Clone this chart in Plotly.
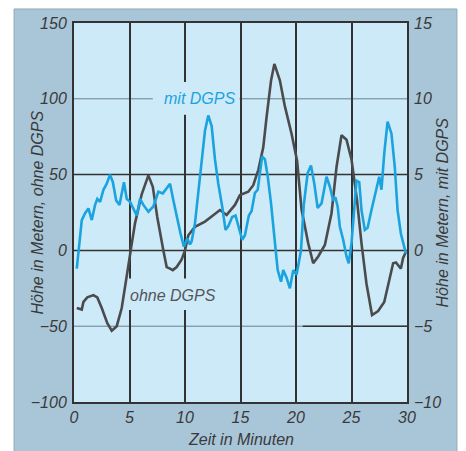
import plotly.graph_objects as go

# ---- data ----
zeit_ohne = [0.25, 0.7, 0.85, 1.2, 1.75, 2.1, 2.5, 3.0, 3.4, 3.85, 4.3, 4.6, 4.9, 5.15, 5.5,
             6.1, 6.7, 7.1, 7.5, 8.05, 8.35, 8.65, 8.9, 9.25, 9.7, 10.0, 10.3, 10.9, 11.8,
             13.15, 13.75, 14.5, 14.95, 15.7, 16.15, 16.6, 17.05, 17.35, 17.75, 18.05, 18.55,
             19.0, 19.6, 20.1, 20.5, 21.1, 21.55, 22.0, 22.6, 23.2, 23.65, 24.1, 24.55, 25.0,
             25.5, 25.9, 26.35, 26.85, 27.4, 27.95, 28.5, 28.75, 29.0, 29.45, 29.65, 29.9]
hoehe_ohne = [-38, -39, -34, -31, -29.5, -31, -38, -48, -53, -50, -38, -25, -10, 2, 18,
              37, 49.5, 42, 22, 0, -11, -12, -13, -11, -6, 0, 10, 15.6, 19,
              26.6, 23.4, 30, 36.5, 38.7, 43, 53, 68, 88, 112, 123, 112,
              95, 77, 59, 27, 4.7, -8.5, -4, 3.6, 24.5, 55, 76, 73, 60,
              33, 4.7, -22, -42.6, -40, -34, -15, -8.5, -8, -12, -5, -1]

zeit_mit = [0.25, 0.4, 0.7, 1.0, 1.3, 1.6, 1.9, 2.1, 2.35, 2.65, 2.95, 3.25, 3.5, 3.8, 4.1,
            4.5, 4.75, 5.05, 5.35, 5.65, 5.95, 6.25, 6.7, 7.15, 7.6, 8.0, 8.35, 8.65, 8.95,
            9.25, 9.6, 9.9, 10.2, 10.45, 10.6, 10.9, 11.35, 11.8, 12.1, 12.4, 12.7, 13.0,
            13.35, 13.65, 13.9, 14.25, 14.55, 14.8, 15.15, 15.4, 15.75, 16.0, 16.3, 16.55,
            16.75, 16.95, 17.2, 17.45, 17.75, 18.05, 18.35, 18.65, 18.85, 19.15, 19.45,
            19.75, 20.05, 20.45, 20.7, 21.05, 21.35, 21.65, 21.95, 22.3, 22.75, 23.05,
            23.35, 23.55, 23.75, 23.95, 24.25, 24.55, 24.75, 25.0, 25.25, 25.45, 25.7,
            25.9, 26.2, 26.45, 26.8, 27.25, 27.5, 27.7, 27.95, 28.25, 28.6, 28.9, 29.15,
            29.45, 29.75, 29.9]
hoehe_mit = [-1.2, -0.2, 2.0, 2.45, 2.77, 2.0, 3.0, 3.4, 3.2, 4.0, 4.4, 5.0, 4.5, 3.3, 3.0,
             4.5, 3.4, 3.2, 2.8, 2.3, 3.4, 3.0, 2.55, 2.9, 3.87, 3.76, 4.1, 4.4, 3.3,
             2.2, 1.1, 0.24, 0.8, 0.4, 0.6, 1.8, 4.9, 7.9, 8.9, 8.2, 6.0, 4.4,
             2.9, 1.35, 1.6, 2.2, 2.3, 1.7, 0.7, 1.0, 2.3, 2.6, 3.8, 4.0,
             5.1, 6.2, 6.0, 4.9, 3.1, 0.9, -1.3, -2.06, -1.3, -1.8, -2.5,
             -1.3, -1.6, 0.0, 3.0, 5.1, 5.6, 4.4, 2.8, 3.1, 4.86, 4.2,
             3.3, 3.5, 2.9, 1.56, 0.7, -0.4, -0.85, 0.47, 2.9, 4.6, 4.5,
             2.66, 1.35, 1.5, 2.66, 4.2, 4.86, 4.0, 6.4, 8.5, 7.7, 5.5, 2.66,
             1.1, 0.24, -0.2]

x_ticks = [0, 5, 10, 15, 20, 25, 30]
y_left_ticks = [-100, -50, 0, 50, 100, 150]
y_right_ticks = [-10, -5, 0, 5, 10, 15]

# ---- styling ----
PLOT_BG = "#cdeaf8"
FRAME = "#a9c6d8"
DARK = "#333333"
BLUE = "#1aa3df"
GRAY = "#4b4b4d"
TXT = "#3a3a3a"
FONT = "Liberation Sans, Arial, sans-serif"

fig = go.Figure()
fig.add_trace(go.Scatter(x=zeit_ohne, y=hoehe_ohne, mode="lines",
                         line=dict(color=GRAY, width=2.6), yaxis="y", showlegend=False))
fig.add_trace(go.Scatter(x=zeit_mit, y=hoehe_mit, mode="lines",
                         line=dict(color=BLUE, width=2.6), yaxis="y2", showlegend=False))

shapes = []
# outer frame
shapes.append(dict(type="rect", xref="paper", yref="paper", x0=-0.18, x1=1.150, y0=-0.2, y1=1.037,
                   fillcolor=FRAME, line=dict(color="#8ea9ba", width=1), layer="below"))
# plot area background (drawn over the frame)
shapes.append(dict(type="rect", xref="paper", yref="paper", x0=0, x1=1, y0=0, y1=1,
                   fillcolor=PLOT_BG, line=dict(width=0), layer="below"))
# horizontal gridlines
for yv, col, w in [(100, "#6d7f8a", 1), (50, DARK, 1.5), (0, DARK, 1.5), (-50, "#6d7f8a", 1)]:
    shapes.append(dict(type="line", xref="paper", yref="y", x0=0, x1=1, y0=yv, y1=yv,
                       line=dict(color=col, width=w), layer="below"))
shapes.append(dict(type="line", xref="x", yref="y", x0=20.6, x1=30, y0=-50, y1=-50,
                   line=dict(color=DARK, width=1.5), layer="below"))
# label backgrounds that break the gridlines (under the curves)
shapes.append(dict(type="rect", xref="x", yref="y", x0=7.1, x1=14.9, y0=89.5, y1=111,
                   fillcolor=PLOT_BG, line=dict(width=0), layer="between"))
shapes.append(dict(type="rect", xref="x", yref="y", x0=4.6, x1=13.3, y0=-39.3, y1=-18.5,
                   fillcolor=PLOT_BG, line=dict(width=0), layer="between"))

annotations = [
    dict(text="mit DGPS", x=11.3, y=100, xref="x", yref="y", showarrow=False,
         font=dict(family=FONT, size=16, color=BLUE, style="italic")),
    dict(text="ohne DGPS", x=8.9, y=-29.5, xref="x", yref="y", showarrow=False,
         font=dict(family=FONT, size=16, color="#555558", style="italic")),
    dict(text="Höhe in Metern, ohne DGPS", x=-0.111, y=0.5, xref="paper", yref="paper",
         textangle=-90, showarrow=False, xanchor="center", yanchor="middle",
         font=dict(family=FONT, size=16, color=TXT, style="italic")),
    dict(text="Höhe in Metern, mit DGPS", x=1.108, y=0.5, xref="paper", yref="paper",
         textangle=-90, showarrow=False, xanchor="center", yanchor="middle",
         font=dict(family=FONT, size=16, color=TXT, style="italic")),
    dict(text="Zeit in Minuten", x=0.5, y=-0.098, xref="paper", yref="paper",
         showarrow=False, xanchor="center", yanchor="middle",
         font=dict(family=FONT, size=16, color=TXT, style="italic")),
]

tickfont = dict(family=FONT, size=16, color=TXT, style="italic")

fig.update_layout(
    width=466, height=451,
    margin=dict(l=74, r=59, t=23, b=49),
    paper_bgcolor="white",
    plot_bgcolor=PLOT_BG,
    shapes=shapes,
    annotations=annotations,
    xaxis=dict(range=[0, 30], tickvals=x_ticks, showgrid=True, gridcolor=DARK, gridwidth=1.5,
               zeroline=False, showline=True, linecolor=DARK, linewidth=2, mirror=True,
               ticks="", tickfont=tickfont, ticklabelstandoff=0),
    yaxis=dict(range=[-100, 150], tickvals=y_left_ticks, showgrid=False, zeroline=False,
               showline=True, linecolor=DARK, linewidth=2, mirror=True,
               ticks="", tickfont=tickfont, ticklabelstandoff=2),
    yaxis2=dict(range=[-10, 15], tickvals=y_right_ticks, overlaying="y", side="right",
                showgrid=False, zeroline=False, showline=False,
                ticks="", tickfont=tickfont, ticklabelstandoff=6),
)

fig.write_html("out.html")
